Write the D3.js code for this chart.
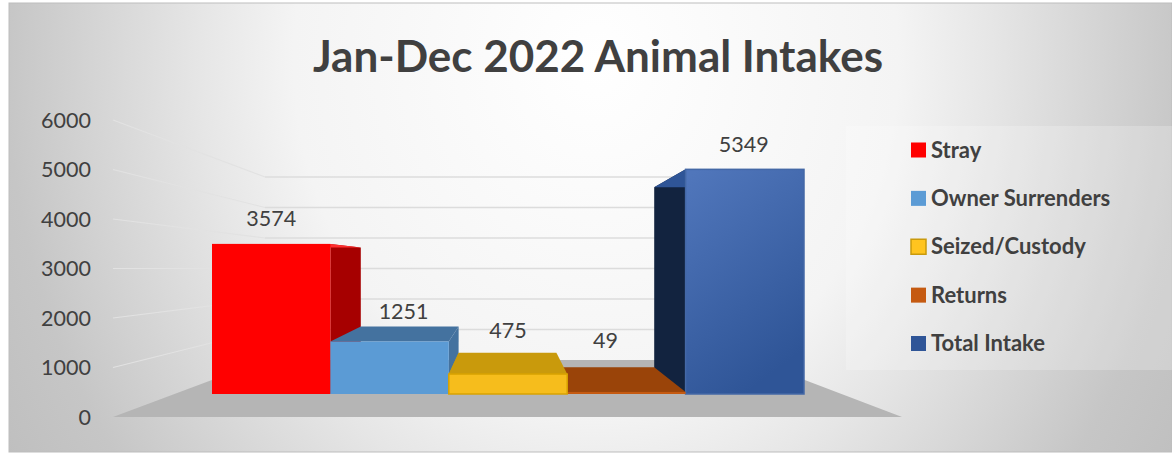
<!DOCTYPE html>
<html>
<head>
<meta charset="utf-8">
<script src="https://cdn.jsdelivr.net/npm/d3@7"></script>
<style>
  html, body { margin: 0; padding: 0; background: #fff; }
  svg { display: block; }
  text { font-family: Lato, "Open Sans", sans-serif; fill: #404040; }
</style>
</head>
<body>
<svg id="chart" width="1172" height="453"></svg>
<script>
const titleText = "Jan-Dec 2022 Animal Intakes";
const categories = ["Stray", "Owner Surrenders", "Seized/Custody", "Returns", "Total Intake"];
const values = [3574, 1251, 475, 49, 5349];
const yTicks = [0, 1000, 2000, 3000, 4000, 5000, 6000];

const frontColors = ["#ff0000", "#5b9bd5", "#f6bd1c", "#c55a11", "url(#navyFront)"];
const topColors = ["#ff3030", "#44729f", "#c99a0c", "#9a4409", "#2f5597"];
const sideColors = ["#a60000", "#44729f", "#c99a0c", "#9a4409", "#12233f"];
const edgeColors = ["none", "none", "#d9a300", "none", "#4468a6"];
const legendColors = ["#ff0000", "#5b9bd5", "#ffc41f", "#c55a11", "#2f5597"];
// painted from the outside in, so the inner bars sit on top
const drawOrder = [0, 4, 1, 3, 2];
// where each value label was moved to, relative to the top middle of its bar
const labelDx = [0, 14, 0, -21, -1];
const labelDy = [-18, -22, -36, -44, -17];

const width = 1172, height = 453;
const svg = d3.select("#chart");
const defs = svg.append("defs");

const bgGrad = defs.append("radialGradient").attr("id", "bg")
  .attr("gradientUnits", "userSpaceOnUse")
  .attr("gradientTransform", "translate(596 60) scale(1 1.15)")
  .attr("cx", 0).attr("cy", 0).attr("r", 720);
[[0, "#ffffff"], [0.42, "#f4f4f4"], [0.55, "#e6e6e6"], [0.82, "#c6c6c6"], [1, "#bcbcbc"]].forEach((s) => {
  bgGrad.append("stop").attr("offset", s[0]).attr("stop-color", s[1]);
});

const navy = defs.append("linearGradient").attr("id", "navyFront")
  .attr("x1", 0.1).attr("y1", 0).attr("x2", 0.5).attr("y2", 1);
navy.append("stop").attr("offset", 0).attr("stop-color", "#5076bb");
navy.append("stop").attr("offset", 1).attr("stop-color", "#2f5597");

// four planes of the 3D box: axis labels, back wall, bar fronts, bar backs
const yAxisScale = d3.scaleLinear().domain([0, 6000]).range([417, 120]);
const yWall = d3.scaleLinear().domain([0, 6000]).range([360, 177]);
const yFront = d3.scaleLinear().domain([0, 6000]).range([394, 142]);
const yBack = d3.scaleLinear().domain([0, 6000]).range([369, 165]);

const xFront = d3.scaleBand().domain(categories).range([212, 804]);
const xBack = d3.scaleLinear().domain([212, 804]).range([263, 752]);

const poly = (pts) => pts.map((p) => p.join(",")).join(" ");

// background panel
svg.append("rect").attr("x", 9).attr("y", 3).attr("width", width - 9).attr("height", 449)
  .attr("fill", "url(#bg)").attr("stroke", "#bdbdbd").attr("stroke-width", 1);

svg.append("text").attr("x", 598).attr("y", 72).attr("text-anchor", "middle")
  .style("font-size", "44px").style("font-weight", 700).text(titleText);

// legend panel sits under the floor corner
svg.append("rect").attr("x", 846).attr("y", 126).attr("width", width - 846).attr("height", 244)
  .attr("fill", "#ffffff").attr("opacity", 0.22);

// floor
svg.append("polygon")
  .attr("points", poly([[113, yAxisScale(0)], [902, yAxisScale(0)], [xBack(804), yWall(0)], [xBack(212) + 2, yWall(0)]]))
  .attr("fill", "#b5b5b5");

// back wall grid
svg.append("g").selectAll("line").data(yTicks.filter((d) => d > 0)).join("line")
  .attr("x1", 265).attr("x2", xBack(804))
  .attr("y1", (d) => yWall(d)).attr("y2", (d) => yWall(d))
  .attr("stroke", "#dcdcdc").attr("stroke-width", 1.3);

// side wall grid
svg.append("g").selectAll("line").data(yTicks.filter((d) => d > 0)).join("line")
  .attr("x1", 265).attr("x2", 113)
  .attr("y1", (d) => yWall(d)).attr("y2", (d) => yAxisScale(d))
  .attr("stroke", "#e2e2e2").attr("stroke-width", 1.2);

// y axis, labels only
const yAxis = d3.axisLeft(yAxisScale).tickValues(yTicks).tickSize(0).tickPadding(0).tickFormat(d3.format("d"));
const axisG = svg.append("g").attr("transform", "translate(91,0.5)").call(yAxis);
axisG.select(".domain").remove();
axisG.selectAll("text").style("font-size", "21.5px").style("font-family", "Lato").attr("fill", "#404040");

// bars
const bars = svg.append("g").selectAll("g").data(drawOrder).join("g");
const vanishX = 506;

bars.each(function (i) {
  const g = d3.select(this);
  const v = values[i];
  const x0 = xFront(categories[i]);
  const x1 = x0 + xFront.bandwidth();
  const onLeft = (x0 + x1) / 2 < vanishX;

  const sideX = onLeft ? x1 : x0;
  g.append("polygon")
    .attr("points", poly([[sideX, yFront(v)], [xBack(sideX), yBack(v)], [xBack(sideX), yBack(0)], [sideX, yFront(0)]]))
    .attr("fill", sideColors[i]);

  g.append("polygon")
    .attr("points", poly([[x0, yFront(v)], [x1, yFront(v)], [xBack(x1), yBack(v)], [xBack(x0), yBack(v)]]))
    .attr("fill", topColors[i]);

  g.append("rect").attr("x", x0).attr("y", yFront(v))
    .attr("width", x1 - x0).attr("height", yFront(0) - yFront(v))
    .attr("fill", frontColors[i])
    .attr("stroke", edgeColors[i]).attr("stroke-width", 1.5);
});

// value labels
svg.append("g").selectAll("text").data(values).join("text")
  .attr("x", (d, i) => xFront(categories[i]) + xFront.bandwidth() / 2 + labelDx[i])
  .attr("y", (d, i) => yFront(d) + labelDy[i])
  .attr("text-anchor", "middle")
  .style("font-size", "21.5px")
  .text((d) => d);

// legend
const legendY = d3.scalePoint().domain(categories).range([150, 343.5]);
const legend = svg.append("g").selectAll("g").data(categories).join("g")
  .attr("transform", (d) => `translate(911,${legendY(d)})`);
legend.append("rect").attr("x", 0).attr("y", -7.5).attr("width", 15).attr("height", 15)
  .attr("fill", (d, i) => legendColors[i])
  .attr("stroke", (d, i) => (i === 2 ? "#c99a0c" : "none")).attr("stroke-width", 1.5);
legend.append("text").attr("x", 20).attr("y", 7.5)
  .style("font-size", "22px").style("font-weight", 700)
  .text((d) => d);
</script>
</body>
</html>
